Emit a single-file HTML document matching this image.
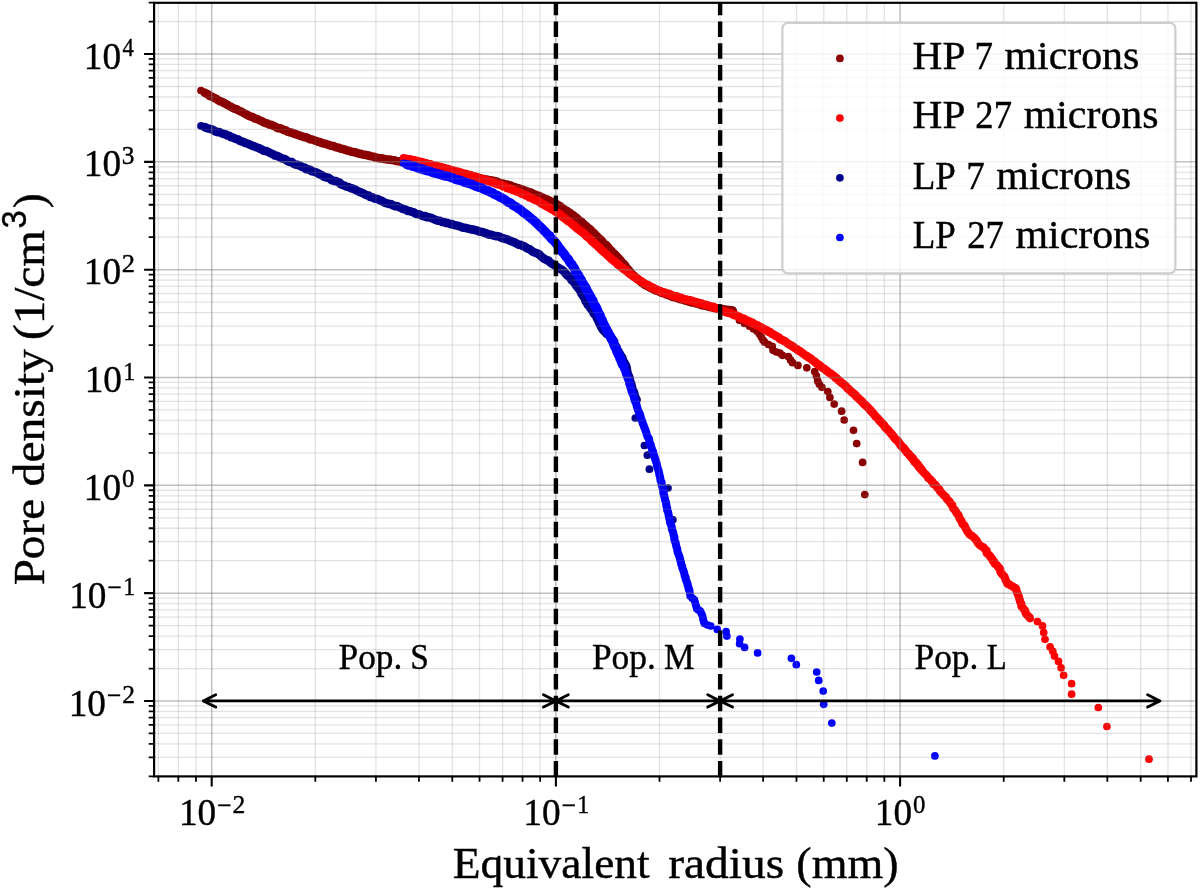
<!DOCTYPE html>
<html><head><meta charset="utf-8"><title>Pore density</title>
<style>html,body{margin:0;padding:0;background:#fff}svg{display:block;will-change:transform;filter:opacity(1)}text{font-family:"Liberation Serif",serif;fill:#000;stroke:#000;stroke-width:0.4px}.sans{font-family:"Liberation Sans",sans-serif}</style></head><body>
<svg width="1200" height="891" viewBox="0 0 1200 891">
<rect width="1200" height="891" fill="#fff"/>
<g id="scatter">
<path d="M204.5 92.6 L206.2 93.7 L208.0 94.3 L209.4 95.8 L211.3 96.4 L213.5 97.5 L215.2 98.4 L216.8 99.2 L218.6 100.5 L220.3 101.4 L222.2 101.9 L224.0 103.1 L225.5 103.7 L227.6 104.9 L229.3 106.0 L231.1 106.9 L232.7 107.8 L234.5 108.7 L236.6 109.1 L237.9 110.1 L240.2 111.1 L241.8 111.9 L243.5 112.9 L245.2 113.9 L247.2 114.9 L249.0 115.8 L250.9 116.7 L252.6 117.0 L254.6 118.3 L256.4 118.9 L258.1 119.5 L260.0 120.5 L261.6 121.0 L263.7 122.3 L265.1 123.0 L267.2 123.4 L268.9 124.5 L271.1 124.8 L272.8 125.5 L274.8 126.4 L276.7 127.5 L278.4 128.3 L280.1 128.4 L282.2 129.1 L283.8 130.0 L286.0 130.5 L287.5 131.6 L289.5 132.3 L291.8 132.7 L293.4 133.4 L295.4 134.1 L297.2 134.8 L299.4 135.4 L300.9 136.1 L302.7 136.5 L305.1 137.3 L306.7 137.6 L308.5 138.6 L310.2 139.3 L312.4 139.6 L314.3 140.4 L316.3 141.0 L318.2 141.8 L319.7 142.0 L322.0 143.1 L323.6 143.4 L325.8 143.9 L327.5 144.5 L329.5 145.3 L331.3 145.7 L333.5 146.1 L335.3 147.1 L337.1 147.4 L339.3 148.0 L340.8 148.7 L343.1 149.0 L344.7 149.7 L347.0 150.4 L348.9 150.7 L350.5 151.5 L352.8 151.9 L354.3 152.2 L356.5 152.7 L358.6 153.6 L360.1 153.7 L362.5 154.4 L364.4 154.7 L366.0 155.1 L368.3 155.5 L370.0 156.0 L372.0 156.4 L374.2 156.7 L375.6 157.6 L378.1 158.0 L379.8 158.4 L382.1 158.3 L383.9 159.0 L385.9 159.2 L387.6 159.4 L389.5 159.6 L391.7 160.0 L393.8 160.2 L395.9 160.9 L397.9 161.3 L399.8 161.4 L401.3 161.8 L403.4 161.8 L405.6 162.2 L407.5 162.8 L409.6 162.7 L411.3 163.2 L413.4 163.4 L415.4 163.4 L417.4 164.0 L419.2 164.2 L421.6 164.5 L423.6 164.3 L425.4 165.2 L427.0 165.1 L429.1 165.6 L431.2 166.0 L433.4 166.1 L434.9 166.6 L436.9 167.0 L439.3 167.9 L440.7 168.2 L442.8 168.5 L444.8 169.2 L446.9 169.5 L448.6 170.0 L450.5 170.6 L452.8 171.0 L454.3 171.4 L456.4 172.2 L458.6 172.6 L460.5 173.2 L462.3 173.6 L464.2 174.3 L466.1 174.8 L468.1 175.0 L470.0 175.8 L471.7 176.1 L473.9 176.9 L476.1 177.1 L478.0 177.8 L479.6 178.0 L481.5 178.7 L483.7 179.1 L485.8 179.4 L487.7 179.8 L489.3 180.2 L491.2 180.4 L493.6 180.8 L495.1 181.3 L497.5 181.8 L498.9 182.8 L500.9 183.3 L503.2 183.8 L505.2 184.2 L507.1 184.5 L509.0 185.3 L510.9 185.6 L512.8 186.7 L514.3 187.0 L516.5 187.9 L518.2 188.1 L520.1 189.0 L522.3 189.5 L523.9 190.2 L525.8 190.9 L527.5 191.6 L529.9 192.3 L531.6 192.9 L533.5 194.0 L535.3 194.6 L537.0 195.4 L539.1 195.9 L540.5 197.0 L542.8 197.7 L544.4 198.6 L546.1 199.1 L547.9 200.1 L549.8 200.8 L551.8 202.1 L553.3 202.8 L555.2 203.8 L557.0 204.4 L558.5 205.3 L560.4 206.5 L561.9 207.6 L563.6 208.9 L565.2 210.2 L567.0 211.0 L568.7 212.3 L570.5 213.3 L571.9 214.6 L573.8 215.6 L575.3 217.2 L576.7 218.0 L578.1 219.5 L579.9 220.9 L581.5 221.8 L582.7 223.1 L584.2 224.6 L586.1 226.0 L587.2 227.3 L588.8 228.4 L590.5 229.5 L591.6 231.4 L593.1 232.4 L594.8 234.0 L595.8 235.2 L597.5 236.7 L598.8 238.2 L600.6 239.5 L601.8 240.8 L603.0 242.5 L604.3 244.1 L606.2 245.0 L607.6 246.6 L608.9 248.3 L610.1 249.7 L611.7 251.2 L612.8 252.6 L614.6 254.0 L615.7 255.1 L617.1 256.7 L618.6 258.4 L619.8 259.6 L621.2 261.3 L622.2 263.0 L623.8 264.0 L625.3 265.6 L626.2 267.4 L627.6 268.9 L629.0 270.3 L630.1 271.7 L631.3 273.5 L633.0 274.8 L634.4 276.1 L635.5 277.5 L637.4 278.7 L638.7 280.1 L640.4 281.3 L641.7 282.5 L643.5 283.9 L645.1 285.0 L646.6 285.7 L648.4 286.5 L650.5 287.8 L651.9 288.4 L653.9 289.6 L655.9 290.5 L657.6 290.9 L659.3 291.7 L661.3 292.7 L662.9 293.2 L665.2 293.8 L667.1 294.9 L669.0 295.3 L670.7 296.0 L672.6 296.9 L674.6 297.1 L676.6 297.8 L678.3 298.5 L679.9 299.1 L682.2 299.5 L684.0 300.1 L685.8 300.7 L687.6 301.2 L689.9 301.7 L691.8 302.5 L693.9 302.5 L695.8 303.3 L697.3 303.7 L699.3 304.0 L701.4 305.0 L703.2 305.5 L705.4 305.6 L707.4 306.3 L709.4 306.9 L711.3 307.1 L713.2 307.9 L715.2 308.0 L717.1 308.4 L718.7 308.5 L720.6 308.8 L722.6 309.3 L724.9 309.6 L726.7 309.9 L728.6 310.0 L730.9 310.2 L732.7 310.5" fill="none" stroke="#8b0000" stroke-width="8.6" stroke-linecap="round" stroke-linejoin="round"/>
<g fill="#8b0000"><circle cx="201.0" cy="90.5" r="3.85"/><circle cx="739.5" cy="320.3" r="3.85"/><circle cx="744.5" cy="323.5" r="3.85"/><circle cx="749.6" cy="326.2" r="3.85"/><circle cx="753.5" cy="329.0" r="3.85"/><circle cx="757.1" cy="331.2" r="3.85"/><circle cx="759.5" cy="334.0" r="3.85"/><circle cx="761.3" cy="337.1" r="3.85"/><circle cx="763.0" cy="340.0" r="3.85"/><circle cx="764.7" cy="342.2" r="3.85"/><circle cx="768.5" cy="344.5" r="3.85"/><circle cx="772.3" cy="346.4" r="3.85"/><circle cx="773.1" cy="350.3" r="3.85"/><circle cx="776.5" cy="352.0" r="3.85"/><circle cx="779.9" cy="353.1" r="3.85"/><circle cx="782.4" cy="355.3" r="3.85"/><circle cx="788.3" cy="356.5" r="3.85"/><circle cx="790.5" cy="359.9" r="3.85"/><circle cx="792.5" cy="362.7" r="3.85"/><circle cx="797.9" cy="365.4" r="3.85"/><circle cx="806.8" cy="367.8" r="3.85"/><circle cx="814.7" cy="371.6" r="3.85"/><circle cx="816.4" cy="375.9" r="3.85"/><circle cx="817.7" cy="380.9" r="3.85"/><circle cx="819.4" cy="384.3" r="3.85"/><circle cx="821.9" cy="387.3" r="3.85"/><circle cx="827.8" cy="391.5" r="3.85"/><circle cx="829.9" cy="397.4" r="3.85"/><circle cx="834.2" cy="404.1" r="3.85"/><circle cx="841.6" cy="411.2" r="3.85"/><circle cx="844.2" cy="420.0" r="3.85"/><circle cx="853.5" cy="430.3" r="3.85"/><circle cx="856.7" cy="443.6" r="3.85"/><circle cx="862.6" cy="462.4" r="3.85"/><circle cx="864.8" cy="494.6" r="3.85"/></g>
<path d="M407.0 158.8 L408.9 159.3 L410.9 159.6 L412.5 160.0 L414.9 160.5 L416.7 161.0 L418.5 161.4 L420.6 161.9 L422.3 162.3 L424.3 163.1 L426.2 163.3 L428.3 164.0 L430.4 164.3 L432.2 165.0 L433.9 165.8 L436.0 165.8 L438.0 166.3 L440.1 167.0 L441.7 167.3 L444.0 168.0 L446.0 168.6 L448.0 169.0 L449.5 169.5 L451.8 170.3 L453.4 170.5 L455.5 171.6 L457.4 171.5 L459.0 172.1 L461.0 172.6 L462.9 173.5 L465.3 173.8 L467.3 174.5 L469.1 175.3 L471.1 175.3 L472.6 176.2 L474.9 176.5 L476.5 177.5 L478.3 177.8 L480.3 178.6 L482.6 178.9 L484.4 179.8 L486.3 180.4 L488.3 180.9 L489.9 181.4 L492.0 182.2 L493.6 182.7 L495.7 183.6 L497.6 184.1 L499.4 184.6 L501.4 185.2 L503.1 186.3 L505.1 186.6 L506.7 187.8 L508.9 188.5 L510.9 189.0 L512.7 189.9 L514.3 190.4 L516.0 191.2 L518.3 191.7 L519.9 192.5 L521.5 193.6 L523.4 194.1 L525.2 195.2 L527.3 195.7 L528.9 197.1 L530.7 197.7 L532.6 198.7 L534.5 199.6 L536.2 200.2 L537.8 201.0 L540.0 202.0 L541.2 203.4 L543.1 204.3 L544.8 205.1 L546.6 206.3 L548.5 207.2 L550.3 208.4 L551.8 209.3 L553.5 210.1 L555.4 211.5 L557.0 212.4 L558.5 213.7 L560.2 214.6 L561.6 216.1 L563.0 217.3 L565.0 218.5 L566.5 219.8 L567.8 220.9 L569.9 222.1 L571.1 223.2 L572.5 224.5 L574.5 226.1 L576.1 227.5 L577.5 228.7 L579.0 229.6 L580.8 231.2 L582.3 232.2 L583.8 233.4 L585.4 235.0 L586.5 236.3 L588.0 237.2 L589.8 238.6 L591.1 240.2 L592.3 241.6 L593.9 242.8 L595.4 244.3 L597.1 245.4 L598.2 246.8 L599.8 248.0 L601.2 249.8 L603.0 251.3 L604.6 252.6 L605.7 253.5 L607.2 255.0 L608.8 256.4 L610.2 257.9 L611.6 259.0 L613.5 260.5 L614.6 261.5 L616.4 262.7 L617.6 264.3 L619.3 265.3 L620.6 266.6 L622.6 268.1 L624.3 269.5 L625.8 270.3 L627.0 271.5 L628.7 272.9 L630.1 274.2 L631.7 275.2 L633.5 276.6 L635.2 277.4 L636.7 278.6 L638.7 279.9 L640.6 281.0 L641.9 281.6 L643.9 283.1 L645.5 284.1 L647.2 284.7 L648.8 285.5 L650.8 287.0 L652.8 287.6 L654.4 288.7 L656.3 289.4 L657.9 290.1 L659.6 290.7 L661.8 291.9 L663.6 292.2 L665.3 292.9 L667.5 293.6 L669.5 294.0 L671.0 294.9 L673.0 295.7 L675.1 296.3 L676.9 296.4 L678.8 297.3 L680.6 297.7 L682.7 298.7 L684.3 299.1 L686.3 299.5 L688.6 300.3 L690.4 300.4 L692.5 300.9 L694.1 301.8 L696.0 302.0 L698.3 302.9 L699.8 303.1 L701.7 303.5 L703.6 304.5 L705.4 304.7 L707.4 305.1 L709.5 306.1 L711.6 306.7 L713.5 306.9 L715.1 308.1 L716.8 308.4 L719.0 309.1 L720.9 309.6 L722.6 310.9 L724.4 311.5 L726.3 312.3 L728.5 312.8 L730.0 313.2 L732.2 313.9 L733.8 315.1 L736.0 315.3 L737.9 316.4 L739.4 316.9 L741.3 318.2 L743.1 318.4 L744.8 319.3 L746.8 320.6 L748.4 321.0 L750.7 322.3 L752.5 322.7 L754.0 324.1 L755.8 324.8 L757.5 325.3 L759.3 326.7 L761.3 327.5 L762.9 328.4 L764.6 329.4 L766.6 330.2 L768.2 331.6 L770.1 332.2 L771.8 333.6 L773.1 334.3 L774.8 335.2 L777.0 336.5 L778.6 337.3 L779.8 338.8 L782.0 339.9 L783.6 340.7 L785.4 341.5 L786.9 342.8 L788.4 344.0 L790.2 345.0 L791.9 345.9 L793.6 347.2 L795.6 348.5 L797.2 349.5 L798.5 350.7 L800.2 351.3 L802.0 352.8 L803.5 353.9 L805.2 355.2 L806.9 356.1 L808.6 357.4 L810.5 358.4 L811.8 359.6 L813.2 360.7 L815.2 362.1 L816.4 363.3 L818.2 364.6 L819.7 365.4 L821.5 367.0 L823.0 368.2 L824.7 369.1 L826.1 370.4 L827.7 371.5 L829.5 373.0 L831.0 373.8 L832.4 375.1 L834.2 376.2 L835.4 377.6 L837.1 378.7 L838.8 380.5 L840.3 381.7 L842.0 383.1 L843.5 384.2 L844.8 385.3 L846.4 386.9 L847.7 388.5 L849.0 389.5 L850.8 391.1 L851.8 392.1 L853.4 393.4 L855.2 394.9 L856.3 396.4 L857.9 397.8 L859.4 399.3 L860.8 400.4 L862.5 402.1 L863.4 403.3 L865.3 405.1 L866.3 405.9 L867.9 407.6 L869.5 409.3 L870.6 410.5 L872.1 412.2 L873.2 413.4 L874.5 415.0 L875.8 416.7 L877.4 418.0 L878.4 419.3 L880.0 421.2 L881.3 422.3 L882.9 424.1 L884.0 425.3 L885.2 427.2 L886.4 428.5 L888.0 429.9 L889.4 431.7 L890.8 433.1 L891.7 434.2 L893.1 435.9 L894.3 437.8 L895.6 439.3 L897.3 440.4 L898.6 442.1 L899.5 443.5 L900.7 445.2 L902.2 446.9 L903.8 447.9 L904.8 449.6 L906.0 451.1 L907.3 452.8 L908.7 454.0 L909.9 455.7 L911.4 457.2 L912.8 458.7 L914.0 460.5 L915.0 462.1 L916.4 463.5 L917.8 465.1 L918.9 466.3 L920.4 468.4 L921.5 469.7" fill="none" stroke="#ff0000" stroke-width="8.6" stroke-linecap="round" stroke-linejoin="round"/>
<path d="M910.6 456.2 L912.0 457.5 L913.4 459.8 L914.2 461.4 L915.6 462.1 L917.1 463.8 L918.4 465.6 L919.0 467.1 L921.0 468.6 L922.0 470.5 L923.2 471.7 L924.6 473.5 L925.6 474.3 L927.4 476.3 L928.3 478.1 L930.2 479.3 L931.6 481.1 L932.7 482.1 L933.3 483.9 L935.4 485.0 L936.6 486.6 L937.7 488.2 L939.3 489.4 L940.1 491.2 L941.6 492.9 L942.8 494.1 L944.1 495.6 L945.8 496.8 L946.6 498.6 L948.0 500.2 L949.3 501.4 L950.8 503.8 L952.2 505.1 L952.5 506.5 L953.2 508.5 L954.9 510.0 L956.1 512.0 L956.8 513.4 L958.4 515.0 L959.1 517.0 L959.6 518.5 L961.3 520.8 L962.1 522.6 L962.6 524.1 L964.4 525.2 L965.3 527.6 L966.2 529.1 L967.0 530.8 L968.1 532.3 L969.4 534.3 L971.2 535.3 L972.7 536.5 L974.3 537.7 L975.5 539.4 L976.6 540.4 L977.6 542.6 L978.9 544.2 L980.6 545.8 L982.5 546.8 L983.6 547.4 L985.2 549.5 L986.6 550.6 L986.7 553.1 L988.3 554.4 L989.6 555.5 L990.8 557.5 L992.1 558.5 L992.7 560.7 L994.3 561.9 L994.6 563.5 L996.9 565.1 L998.0 567.0 L999.3 567.9 L1000.2 569.4 L1000.5 572.0 L1001.4 573.1 L1002.8 575.0 L1004.4 576.5 L1005.1 578.5 L1005.8 580.4 L1006.6 582.0 L1007.5 583.6 L1009.7 584.6 L1010.9 585.6 L1012.5 586.4 L1014.7 587.7 L1016.1 588.7 L1016.3 590.2 L1017.0 592.3 L1017.9 594.3 L1018.8 596.5 L1019.3 598.5 L1019.7 600.1 L1020.1 601.6 L1021.3 603.9 L1021.4 606.2 L1022.7 607.7 L1023.6 609.0 L1025.2 610.7 L1025.7 613.2 L1026.5 614.4 L1027.9 615.8 L1029.7 617.5 L1029.9 618.3" fill="none" stroke="#ff0000" stroke-width="8.3" stroke-linecap="round" stroke-linejoin="round"/>
<g fill="#ff0000"><circle cx="403.6" cy="157.8" r="3.85"/><circle cx="1037.4" cy="621.6" r="3.85"/><circle cx="1042.5" cy="625.9" r="3.85"/><circle cx="1043.7" cy="632.6" r="3.85"/><circle cx="1045.0" cy="639.3" r="3.85"/><circle cx="1050.1" cy="646.9" r="3.85"/><circle cx="1052.8" cy="651.3" r="3.85"/><circle cx="1054.5" cy="656.1" r="3.85"/><circle cx="1058.5" cy="661.4" r="3.85"/><circle cx="1061.1" cy="667.8" r="3.85"/><circle cx="1063.6" cy="675.3" r="3.85"/><circle cx="1071.6" cy="683.7" r="3.85"/><circle cx="1071.6" cy="694.2" r="3.85"/><circle cx="1098.3" cy="707.5" r="3.85"/><circle cx="1106.9" cy="726.5" r="3.85"/><circle cx="1149.0" cy="759.2" r="3.85"/></g>
<path d="M204.5 127.0 L206.7 128.0 L207.9 128.4 L210.0 128.9 L211.9 129.4 L213.6 130.4 L215.5 131.4 L217.3 132.1 L219.3 132.0 L221.6 133.2 L223.5 133.9 L225.3 134.2 L227.1 135.4 L229.3 135.7 L230.3 137.0 L232.9 137.5 L234.6 138.4 L236.2 139.1 L238.2 139.4 L239.8 140.8 L241.6 141.4 L243.4 142.0 L245.7 143.1 L247.8 143.6 L249.0 144.3 L250.7 145.0 L253.0 146.0 L254.5 146.4 L256.3 147.2 L258.5 148.0 L260.7 149.0 L262.0 149.6 L263.6 150.7 L266.1 151.1 L267.9 151.8 L269.3 152.5 L271.2 153.6 L273.4 154.5 L274.7 155.4 L276.9 155.8 L278.7 156.7 L280.3 157.5 L282.5 158.6 L284.6 159.0 L286.4 160.3 L288.1 161.3 L289.4 161.9 L291.9 162.1 L293.5 163.7 L295.0 164.4 L297.4 164.8 L298.6 165.3 L301.1 166.3 L302.4 167.1 L304.8 167.7 L305.9 169.1 L308.0 169.3 L310.4 170.0 L311.5 171.3 L313.4 171.5 L315.9 172.3 L317.7 173.2 L319.0 173.9 L321.1 175.0 L322.8 175.7 L324.5 176.9 L326.9 177.6 L328.6 177.8 L329.9 178.7 L331.7 180.2 L334.2 181.0 L335.7 181.1 L337.4 181.8 L339.7 182.8 L340.9 184.3 L342.7 185.0 L344.6 185.6 L346.3 186.6 L348.4 187.0 L350.4 188.0 L351.9 188.4 L354.0 189.1 L356.1 190.1 L357.3 190.9 L359.1 191.7 L361.3 192.6 L363.0 193.2 L365.0 194.5 L366.8 195.2 L368.6 195.5 L370.2 196.9 L372.3 197.2 L374.2 198.4 L375.9 198.7 L377.8 199.1 L379.8 200.2 L381.7 200.9 L383.5 201.8 L385.1 202.8 L387.0 203.3 L388.9 204.0 L390.8 204.0 L393.0 205.4 L395.1 206.1 L397.1 206.1 L398.5 206.8 L400.7 207.8 L402.5 208.8 L404.7 209.4 L406.4 210.0 L407.6 211.0 L409.5 211.0 L412.0 211.8 L413.7 212.3 L415.2 213.6 L416.9 214.0 L419.6 214.4 L421.3 215.5 L423.2 216.1 L425.2 216.0 L426.6 217.1 L429.2 217.3 L430.8 217.8 L433.0 218.7 L434.6 219.5 L436.2 220.1 L438.7 220.8 L440.1 220.8 L441.9 221.9 L444.1 222.1 L446.1 222.9 L447.8 223.1 L450.2 224.1 L451.7 224.0 L454.2 225.1 L455.8 225.3 L458.1 225.9 L459.3 226.1 L461.4 227.0 L463.3 227.8 L465.5 227.9 L467.5 228.5 L469.4 228.9 L471.2 229.4 L473.4 229.6 L475.3 230.2 L477.3 230.5 L478.9 231.4 L481.1 231.7 L482.6 232.1 L484.8 233.0 L486.2 233.2 L488.3 234.4 L490.5 234.6 L492.3 235.2 L494.7 235.8 L495.9 236.1 L498.2 236.3 L500.4 237.1 L501.9 238.0 L504.0 238.5 L506.2 239.2 L507.6 239.5 L509.6 240.5 L511.4 241.3 L512.8 241.8 L514.8 242.6 L517.2 243.8 L518.5 244.7 L520.7 244.9 L522.7 245.9 L524.7 246.6 L525.9 247.5 L528.2 248.9 L529.7 249.2 L531.4 250.6 L532.8 251.8 L535.3 252.7 L536.9 253.4 L538.9 254.1 L539.9 255.1 L541.5 256.8 L543.0 257.9 L544.9 259.2 L546.9 260.2 L548.6 260.7 L549.7 262.1 L551.6 263.5 L553.7 264.6 L555.4 265.6 L556.5 266.6 L558.6 267.9 L559.9 268.7 L561.7 269.7 L563.5 270.8 L564.8 272.5 L565.9 273.9 L567.6 275.6 L569.3 276.7 L570.7 278.4 L571.4 279.9 L573.3 281.5 L574.5 282.5 L575.3 284.3 L576.5 286.0 L577.9 287.7 L578.8 288.9 L580.4 290.9 L580.9 292.5 L582.0 294.4 L583.0 295.8 L584.4 298.1 L585.1 299.3 L585.6 301.4 L587.2 303.1 L587.7 304.8 L589.1 306.2 L590.3 307.9 L591.5 309.8 L592.9 310.9 L593.6 313.3 L594.8 314.7 L596.0 315.9 L596.9 318.1 L597.7 319.6 L598.5 321.2 L599.3 323.2 L600.5 325.4 L601.1 327.1 L602.1 328.5 L603.2 330.3 L605.1 331.7 L605.9 333.1 L607.2 334.2 L609.1 335.2 L610.4 337.3 L611.9 338.3 L613.1 340.0 L614.2 341.7 L614.3 344.0 L615.0 345.2 L616.4 346.8 L617.0 349.3 L618.0 350.6 L619.2 352.7 L620.1 354.2 L620.9 355.7 L622.5 358.0 L622.5 359.0 L623.6 361.4 L624.3 362.6 L625.5 364.5 L626.4 366.6 L626.9 368.9 L626.8 370.8 L627.5 372.2 L627.8 374.5 L628.8 376.1 L629.6 377.9 L629.9 379.7 L630.4 382.3 L631.2 383.6 L631.6 385.9 L632.2 388.0 L632.7 389.9 L633.8 391.8 L634.2 393.0 L634.7 395.4 L635.2 396.8 L636.5 399.4 L636.6 400.0" fill="none" stroke="#00008b" stroke-width="8.6" stroke-linecap="round" stroke-linejoin="round"/>
<g fill="#00008b"><circle cx="201.0" cy="125.9" r="3.85"/><circle cx="635.3" cy="418.0" r="3.85"/><circle cx="644.4" cy="445.5" r="3.85"/><circle cx="647.4" cy="455.2" r="3.85"/><circle cx="649.4" cy="469.2" r="3.85"/><circle cx="668.0" cy="488.0" r="3.85"/><circle cx="672.9" cy="519.8" r="3.85"/></g>
<path d="M407.0 164.6 L409.0 165.2 L410.8 165.4 L412.5 166.1 L414.7 166.6 L416.9 167.5 L418.7 168.2 L420.3 168.8 L422.6 169.0 L424.1 169.9 L426.4 170.4 L428.1 170.9 L429.8 171.2 L431.9 172.1 L433.6 172.7 L435.5 173.3 L437.6 173.8 L439.8 174.4 L441.6 174.8 L443.4 175.5 L445.2 176.0 L447.4 176.1 L449.5 176.9 L450.9 177.4 L452.8 178.0 L455.1 179.1 L457.0 179.6 L459.0 180.1 L460.6 180.5 L462.4 181.3 L464.3 182.1 L466.2 182.6 L468.3 183.3 L469.9 183.7 L472.1 184.4 L474.0 185.5 L475.7 186.2 L477.7 186.9 L479.5 187.5 L481.5 187.9 L483.2 188.9 L485.0 189.7 L487.1 190.6 L488.9 191.1 L490.6 192.2 L492.6 192.7 L493.9 194.2 L495.8 194.9 L497.7 195.7 L499.4 196.7 L501.4 197.7 L503.1 198.6 L504.7 199.7 L506.5 200.9 L507.8 202.0 L509.8 202.7 L511.4 203.6 L512.9 205.2 L514.9 206.3 L516.2 206.9 L518.0 208.3 L519.8 209.3 L521.5 210.7 L522.8 212.0 L524.3 213.1 L525.9 214.0 L527.6 215.5 L529.2 216.7 L531.0 218.3 L532.0 219.1 L534.0 220.7 L535.0 221.8 L536.8 223.2 L538.1 224.8 L539.5 226.2 L541.3 227.7 L542.6 229.0 L543.8 230.4 L545.4 231.8 L546.7 233.3 L547.9 234.7 L549.7 235.8 L550.7 237.8 L551.9 239.2 L553.5 240.3 L554.8 241.8 L556.2 243.5 L557.6 245.4 L558.3 246.6 L559.6 248.4 L560.8 249.6 L562.0 251.6 L563.3 252.9 L564.6 254.6 L565.8 256.5 L566.9 257.8 L568.4 259.3 L569.2 261.3 L570.4 263.0 L571.8 264.3 L572.6 265.8 L574.0 267.7 L574.8 269.2 L575.7 271.4 L576.7 272.9 L578.0 274.6 L579.0 276.2 L579.8 278.2 L581.2 279.8 L581.8 281.8 L582.8 283.0 L584.0 285.2 L585.0 286.5 L586.2 288.2 L586.8 290.5 L588.1 292.1 L588.6 293.9 L589.8 295.1 L591.0 297.4 L591.5 298.9 L592.9 300.6 L593.4 302.6 L594.4 304.6 L595.6 306.3 L596.4 307.7 L597.2 309.7 L598.0 311.5 L598.7 313.1 L600.0 315.0 L600.3 317.2 L601.4 318.8 L602.2 320.3 L603.0 322.5 L603.9 324.3 L604.8 326.1 L605.6 327.7 L606.4 329.3 L607.6 331.2 L608.5 332.9 L609.2 334.7 L610.5 336.4 L611.1 338.6 L612.0 340.1 L613.1 341.8 L613.5 343.6 L614.5 345.9 L615.2 347.4 L616.4 349.0 L616.7 351.2 L617.6 353.0 L618.4 354.9 L619.6 356.6 L620.0 358.6 L621.0 360.1 L621.5 362.1 L622.3 363.9 L622.7 365.0" fill="none" stroke="#0000ff" stroke-width="9.4" stroke-linecap="round" stroke-linejoin="round"/>
<path d="M619.9 357.3 L620.4 358.9 L621.1 360.9 L622.3 362.9 L622.7 365.1 L623.7 366.8 L624.0 368.4 L624.9 370.2 L625.5 372.1 L626.1 374.3 L627.0 376.0 L627.5 378.0 L628.3 379.5 L629.0 381.7 L629.3 383.9 L630.2 385.4 L630.4 387.4 L631.2 389.3 L631.6 391.3 L632.4 393.3 L633.2 394.9 L634.0 396.9 L634.2 398.7 L634.8 400.7 L635.9 402.9 L636.4 404.3 L636.8 406.3 L637.5 408.4 L638.0 410.2 L638.9 412.2 L639.8 413.9 L640.3 415.7 L640.9 417.8 L641.3 419.7 L642.3 421.3 L642.8 423.6 L643.6 425.1 L644.2 427.2 L645.0 429.0 L645.6 430.8 L646.4 432.9 L646.8 434.7 L647.6 436.9 L648.7 438.2 L649.2 440.3 L649.5 442.5 L650.6 444.3 L651.1 446.3 L651.6 448.0 L652.3 450.1 L653.1 451.6 L653.3 453.7 L654.1 455.5 L654.8 457.7 L655.3 459.4 L655.9 461.1 L656.5 463.0 L657.1 465.2 L657.2 466.9 L658.0 469.0 L658.5 470.7 L659.1 472.9 L659.4 475.0 L660.0 476.7 L660.3 478.7 L660.6 480.5 L661.6 482.4 L661.6 484.8 L662.2 486.5 L662.8 488.6 L663.1 490.6 L663.3 492.6 L663.9 494.4 L664.3 496.4 L664.8 498.3 L665.2 500.4 L665.9 502.0 L666.3 504.4 L666.4 505.9 L667.2 508.3 L667.1 510.1 L668.0 511.8 L668.4 513.8 L668.8 515.8 L669.1 517.6 L669.7 519.8 L669.9 521.4 L670.3 523.5 L671.4 525.7 L671.8 527.6 L671.9 529.3 L672.9 531.6 L673.4 533.5 L673.7 535.4 L674.4 537.1 L674.3 539.0 L674.8 540.9 L675.7 542.8 L675.9 544.7 L676.5 546.9 L677.2 549.1 L677.3 550.6 L677.9 552.9 L678.7 554.7 L679.3 556.2 L679.9 558.3 L680.3 560.3 L681.0 562.2 L681.2 564.1 L682.1 566.1 L682.3 567.9 L683.2 569.9 L683.8 572.0 L684.4 573.9 L684.7 575.9 L685.7 577.6 L685.7 579.2 L686.7 581.6 L687.3 583.3 L687.7 585.0 L688.4 587.4 L688.7 589.1 L689.2 590.0" fill="none" stroke="#0000ff" stroke-width="8.1" stroke-linecap="round" stroke-linejoin="round"/>
<g fill="#0000ff"><circle cx="403.6" cy="163.3" r="3.85"/><circle cx="689.4" cy="590.2" r="3.85"/><circle cx="689.9" cy="593.2" r="3.85"/><circle cx="690.2" cy="596.1" r="3.85"/><circle cx="692.3" cy="598.2" r="3.85"/><circle cx="694.4" cy="599.9" r="3.85"/><circle cx="695.1" cy="602.3" r="3.85"/><circle cx="695.7" cy="604.5" r="3.85"/><circle cx="696.3" cy="606.7" r="3.85"/><circle cx="696.9" cy="608.7" r="3.85"/><circle cx="698.6" cy="610.1" r="3.85"/><circle cx="700.3" cy="611.2" r="3.85"/><circle cx="701.4" cy="613.4" r="3.85"/><circle cx="702.4" cy="615.5" r="3.85"/><circle cx="702.8" cy="617.7" r="3.85"/><circle cx="703.2" cy="619.7" r="3.85"/><circle cx="703.9" cy="621.7" r="3.85"/><circle cx="704.5" cy="623.5" r="3.85"/><circle cx="707.6" cy="625.0" r="3.85"/><circle cx="710.8" cy="626.0" r="3.85"/><circle cx="717.3" cy="629.4" r="3.85"/><circle cx="726.1" cy="631.5" r="3.85"/><circle cx="726.9" cy="636.1" r="3.85"/><circle cx="739.9" cy="639.0" r="3.85"/><circle cx="739.6" cy="643.7" r="3.85"/><circle cx="744.6" cy="647.4" r="3.85"/><circle cx="757.6" cy="652.9" r="3.85"/><circle cx="791.4" cy="658.3" r="3.85"/><circle cx="796.3" cy="664.7" r="3.85"/><circle cx="816.7" cy="672.0" r="3.85"/><circle cx="818.7" cy="680.4" r="3.85"/><circle cx="823.2" cy="691.1" r="3.85"/><circle cx="823.7" cy="704.3" r="3.85"/><circle cx="831.8" cy="723.1" r="3.85"/><circle cx="934.9" cy="755.9" r="3.85"/></g>
</g>
<path d="M158.38 2.8 V776.4 M178.34 2.8 V776.4 M195.95 2.8 V776.4 M315.31 2.8 V776.4 M375.93 2.8 V776.4 M418.93 2.8 V776.4 M452.29 2.8 V776.4 M479.54 2.8 V776.4 M502.58 2.8 V776.4 M522.54 2.8 V776.4 M540.15 2.8 V776.4 M659.51 2.8 V776.4 M720.13 2.8 V776.4 M763.13 2.8 V776.4 M796.49 2.8 V776.4 M823.74 2.8 V776.4 M846.78 2.8 V776.4 M866.74 2.8 V776.4 M884.35 2.8 V776.4 M1003.71 2.8 V776.4 M1064.33 2.8 V776.4 M1107.33 2.8 V776.4 M1140.69 2.8 V776.4 M1167.94 2.8 V776.4 M1190.98 2.8 V776.4" stroke="#808080" stroke-opacity="0.22" stroke-width="1.3" fill="none"/>
<path d="M154.1 757.38 H1196.4 M154.1 743.91 H1196.4 M154.1 733.46 H1196.4 M154.1 724.92 H1196.4 M154.1 717.70 H1196.4 M154.1 711.45 H1196.4 M154.1 705.93 H1196.4 M154.1 668.54 H1196.4 M154.1 649.55 H1196.4 M154.1 636.08 H1196.4 M154.1 625.63 H1196.4 M154.1 617.09 H1196.4 M154.1 609.87 H1196.4 M154.1 603.62 H1196.4 M154.1 598.10 H1196.4 M154.1 560.71 H1196.4 M154.1 541.72 H1196.4 M154.1 528.25 H1196.4 M154.1 517.80 H1196.4 M154.1 509.26 H1196.4 M154.1 502.04 H1196.4 M154.1 495.79 H1196.4 M154.1 490.27 H1196.4 M154.1 452.88 H1196.4 M154.1 433.89 H1196.4 M154.1 420.42 H1196.4 M154.1 409.97 H1196.4 M154.1 401.43 H1196.4 M154.1 394.21 H1196.4 M154.1 387.96 H1196.4 M154.1 382.44 H1196.4 M154.1 345.05 H1196.4 M154.1 326.06 H1196.4 M154.1 312.59 H1196.4 M154.1 302.14 H1196.4 M154.1 293.60 H1196.4 M154.1 286.38 H1196.4 M154.1 280.13 H1196.4 M154.1 274.61 H1196.4 M154.1 237.22 H1196.4 M154.1 218.23 H1196.4 M154.1 204.76 H1196.4 M154.1 194.31 H1196.4 M154.1 185.77 H1196.4 M154.1 178.55 H1196.4 M154.1 172.30 H1196.4 M154.1 166.78 H1196.4 M154.1 129.39 H1196.4 M154.1 110.40 H1196.4 M154.1 96.93 H1196.4 M154.1 86.48 H1196.4 M154.1 77.94 H1196.4 M154.1 70.72 H1196.4 M154.1 64.47 H1196.4 M154.1 58.95 H1196.4 M154.1 21.56 H1196.4" stroke="#808080" stroke-opacity="0.22" stroke-width="1.3" fill="none"/>
<path d="M211.70 2.8 V776.4 M555.90 2.8 V776.4 M900.10 2.8 V776.4" stroke="#808080" stroke-opacity="0.5" stroke-width="1.5" fill="none"/>
<path d="M154.1 701.00 H1196.4 M154.1 593.17 H1196.4 M154.1 485.34 H1196.4 M154.1 377.51 H1196.4 M154.1 269.68 H1196.4 M154.1 161.85 H1196.4 M154.1 54.02 H1196.4" stroke="#808080" stroke-opacity="0.5" stroke-width="1.5" fill="none"/>
<path d="M555.90 776.4 V2.8" stroke="#000" stroke-width="4.4" stroke-dasharray="15.4 6.35" fill="none"/>
<path d="M720.13 776.4 V2.8" stroke="#000" stroke-width="4.4" stroke-dasharray="15.4 6.35" fill="none"/>
<path d="M203.3 700.9 H555.9 M215.7 694.6999999999999 L203.3 700.9 L215.7 707.1 M543.5 694.6999999999999 L555.9 700.9 L543.5 707.1" stroke="#000" stroke-width="2.8" fill="none" stroke-linecap="round" stroke-linejoin="round"/>
<path d="M555.9 700.9 H720.1 M568.3 694.6999999999999 L555.9 700.9 L568.3 707.1 M707.7 694.6999999999999 L720.1 700.9 L707.7 707.1" stroke="#000" stroke-width="2.8" fill="none" stroke-linecap="round" stroke-linejoin="round"/>
<path d="M720.1 700.9 H1160.0 M732.5 694.6999999999999 L720.1 700.9 L732.5 707.1 M1147.6 694.6999999999999 L1160.0 700.9 L1147.6 707.1" stroke="#000" stroke-width="2.8" fill="none" stroke-linecap="round" stroke-linejoin="round"/>
<text transform="translate(338.59,668.60) scale(0.9883,1.0)" font-size="35.7">Pop.</text>
<text transform="translate(410.30,668.60) scale(0.9358,1.0)" font-size="35.7">S</text>
<text transform="translate(591.89,668.60) scale(0.9915,1.0)" font-size="35.7">Pop.</text>
<text transform="translate(664.11,668.60) scale(0.9604,1.0)" font-size="35.7">M</text>
<text transform="translate(914.49,668.60) scale(0.9915,1.0)" font-size="35.7">Pop.</text>
<text transform="translate(986.74,668.60) scale(0.9181,1.0)" font-size="35.7">L</text>
<rect x="154.1" y="2.8" width="1042.3000000000002" height="773.6" fill="none" stroke="#000" stroke-width="2.2"/>
<path d="M211.70 776.4 v10 M555.90 776.4 v10 M900.10 776.4 v10 M154.1 701.00 h-10 M154.1 593.17 h-10 M154.1 485.34 h-10 M154.1 377.51 h-10 M154.1 269.68 h-10 M154.1 161.85 h-10 M154.1 54.02 h-10" stroke="#000" stroke-width="2.1" fill="none"/>
<path d="M158.38 776.4 v5.4 M178.34 776.4 v5.4 M195.95 776.4 v5.4 M315.31 776.4 v5.4 M375.93 776.4 v5.4 M418.93 776.4 v5.4 M452.29 776.4 v5.4 M479.54 776.4 v5.4 M502.58 776.4 v5.4 M522.54 776.4 v5.4 M540.15 776.4 v5.4 M659.51 776.4 v5.4 M720.13 776.4 v5.4 M763.13 776.4 v5.4 M796.49 776.4 v5.4 M823.74 776.4 v5.4 M846.78 776.4 v5.4 M866.74 776.4 v5.4 M884.35 776.4 v5.4 M1003.71 776.4 v5.4 M1064.33 776.4 v5.4 M1107.33 776.4 v5.4 M1140.69 776.4 v5.4 M1167.94 776.4 v5.4 M1190.98 776.4 v5.4 M154.1 776.37 h-5.4 M154.1 757.38 h-5.4 M154.1 743.91 h-5.4 M154.1 733.46 h-5.4 M154.1 724.92 h-5.4 M154.1 717.70 h-5.4 M154.1 711.45 h-5.4 M154.1 705.93 h-5.4 M154.1 668.54 h-5.4 M154.1 649.55 h-5.4 M154.1 636.08 h-5.4 M154.1 625.63 h-5.4 M154.1 617.09 h-5.4 M154.1 609.87 h-5.4 M154.1 603.62 h-5.4 M154.1 598.10 h-5.4 M154.1 560.71 h-5.4 M154.1 541.72 h-5.4 M154.1 528.25 h-5.4 M154.1 517.80 h-5.4 M154.1 509.26 h-5.4 M154.1 502.04 h-5.4 M154.1 495.79 h-5.4 M154.1 490.27 h-5.4 M154.1 452.88 h-5.4 M154.1 433.89 h-5.4 M154.1 420.42 h-5.4 M154.1 409.97 h-5.4 M154.1 401.43 h-5.4 M154.1 394.21 h-5.4 M154.1 387.96 h-5.4 M154.1 382.44 h-5.4 M154.1 345.05 h-5.4 M154.1 326.06 h-5.4 M154.1 312.59 h-5.4 M154.1 302.14 h-5.4 M154.1 293.60 h-5.4 M154.1 286.38 h-5.4 M154.1 280.13 h-5.4 M154.1 274.61 h-5.4 M154.1 237.22 h-5.4 M154.1 218.23 h-5.4 M154.1 204.76 h-5.4 M154.1 194.31 h-5.4 M154.1 185.77 h-5.4 M154.1 178.55 h-5.4 M154.1 172.30 h-5.4 M154.1 166.78 h-5.4 M154.1 129.39 h-5.4 M154.1 110.40 h-5.4 M154.1 96.93 h-5.4 M154.1 86.48 h-5.4 M154.1 77.94 h-5.4 M154.1 70.72 h-5.4 M154.1 64.47 h-5.4 M154.1 58.95 h-5.4 M154.1 21.56 h-5.4 M154.1 2.57 h-5.4" stroke="#000" stroke-width="1.8" fill="none"/>
<text transform="translate(178.92,825.20) scale(0.9740,1.0)" font-size="38.3">10</text>
<text transform="translate(217.28,813.50) scale(0.9856,1.0)" font-size="26.0">−</text>
<text transform="translate(232.38,812.60) scale(0.9850,1.0)" font-size="26.0">2</text>
<text transform="translate(523.37,825.20) scale(0.9740,1.0)" font-size="38.3">10</text>
<text transform="translate(561.73,813.50) scale(0.9856,1.0)" font-size="26.0">−</text>
<text transform="translate(577.34,812.60) scale(0.9188,1.0)" font-size="26.0">1</text>
<text transform="translate(874.87,825.20) scale(0.9740,1.0)" font-size="38.3">10</text>
<text transform="translate(913.11,812.60) scale(0.9528,1.0)" font-size="26.0">0</text>
<text transform="translate(68.72,715.60) scale(0.9740,1.0)" font-size="38.3">10</text>
<text transform="translate(107.07,703.90) scale(0.9856,1.0)" font-size="26.0">−</text>
<text transform="translate(122.18,703.00) scale(0.9850,1.0)" font-size="26.0">2</text>
<text transform="translate(69.22,607.77) scale(0.9740,1.0)" font-size="38.3">10</text>
<text transform="translate(107.57,596.07) scale(0.9856,1.0)" font-size="26.0">−</text>
<text transform="translate(123.19,595.17) scale(0.9188,1.0)" font-size="26.0">1</text>
<text transform="translate(83.82,499.94) scale(0.9740,1.0)" font-size="38.3">10</text>
<text transform="translate(122.06,487.34) scale(0.9528,1.0)" font-size="26.0">0</text>
<text transform="translate(84.72,392.11) scale(0.9740,1.0)" font-size="38.3">10</text>
<text transform="translate(123.19,379.51) scale(0.9188,1.0)" font-size="26.0">1</text>
<text transform="translate(83.82,284.28) scale(0.9740,1.0)" font-size="38.3">10</text>
<text transform="translate(121.74,271.68) scale(1.0225,1.0)" font-size="26.0">2</text>
<text transform="translate(83.82,176.45) scale(0.9740,1.0)" font-size="38.3">10</text>
<text transform="translate(121.79,163.85) scale(0.9750,1.0)" font-size="26.0">3</text>
<text transform="translate(83.82,68.62) scale(0.9740,1.0)" font-size="38.3">10</text>
<text transform="translate(122.57,56.02) scale(0.8734,1.0)" font-size="26.0">4</text>
<text transform="translate(452.79,877.90) scale(1.0192,1.0)" font-size="44.6">Equivalent</text>
<text transform="translate(668.25,877.90) scale(1.0636,1.0)" font-size="44.6">radius</text>
<text transform="translate(796.36,877.90) scale(1.0327,1.0)" font-size="44.6">(mm)</text>
<text transform="translate(43.80,585.34) rotate(-90) scale(1.0573,1)" font-size="44.6">Pore</text>
<text transform="translate(43.80,486.43) rotate(-90) scale(1.0683,1)" font-size="44.6">density</text>
<text transform="translate(43.80,339.99) rotate(-90) scale(1.0569,1)" font-size="44.6">(1/cm</text>
<text class="sans" transform="translate(26.30,228.38) rotate(-90) scale(0.9548,1)" font-size="34.2">3</text>
<text transform="translate(43.80,208.35) rotate(-90) scale(1.0090,1)" font-size="44.6">)</text>
<rect x="782.4" y="22.9" width="393.0" height="250.4" rx="5.5" ry="5.5" fill="#fff" fill-opacity="0.8" stroke="#cbcbcb" stroke-opacity="0.95" stroke-width="2.2"/>
<circle cx="839.9" cy="58.4" r="3.85" fill="#8b0000"/>
<text transform="translate(912.57,68.90) scale(1.0541,1.0)" font-size="39.2">HP</text>
<text transform="translate(974.39,68.90) scale(0.9414,1.0)" font-size="39.2">7</text>
<text transform="translate(1004.46,68.90) scale(1.0686,1.0)" font-size="39.2">microns</text>
<circle cx="839.9" cy="118.1" r="3.85" fill="#ff0000"/>
<text transform="translate(912.57,128.10) scale(1.0541,1.0)" font-size="39.2">HP</text>
<text transform="translate(975.34,128.10) scale(0.9336,1.0)" font-size="39.2">27</text>
<text transform="translate(1023.66,128.10) scale(1.0686,1.0)" font-size="39.2">microns</text>
<circle cx="839.9" cy="177.8" r="3.85" fill="#00008b"/>
<text transform="translate(912.76,188.90) scale(0.9439,1.0)" font-size="39.2">LP</text>
<text transform="translate(966.19,188.90) scale(0.9414,1.0)" font-size="39.2">7</text>
<text transform="translate(996.26,188.90) scale(1.0686,1.0)" font-size="39.2">microns</text>
<circle cx="839.9" cy="237.5" r="3.85" fill="#0000ff"/>
<text transform="translate(912.76,248.10) scale(0.9439,1.0)" font-size="39.2">LP</text>
<text transform="translate(967.14,248.10) scale(0.9336,1.0)" font-size="39.2">27</text>
<text transform="translate(1015.46,248.10) scale(1.0686,1.0)" font-size="39.2">microns</text>
</svg></body></html>
